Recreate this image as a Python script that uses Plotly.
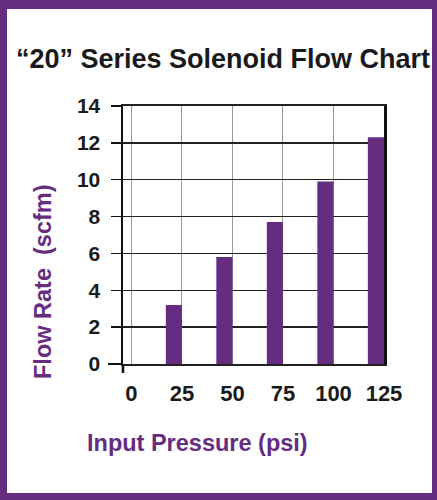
import plotly.graph_objects as go

# Data
pressures = [25, 50, 75, 100, 125]
flow_rates = [3.2, 5.8, 7.7, 9.9, 12.3]
x_tick_values = [0, 25, 50, 75, 100, 125]
x_tick_labels = ["0", "25", "50", "75", "100", "125"]
title_text = "\u201c20\u201d Series Solenoid Flow Chart"
y_title = "Flow Rate  (scfm)"
x_title = "Input Pressure (psi)"

PURPLE = "#662C80"
W, H = 437, 500
L, R, T, B = 123, 384, 106, 364  # plot area in pixels
FONT = "Liberation Sans, Arial, sans-serif"


def px(xp):
    return (xp - L) / (R - L)


def py(yp):
    return (B - yp) / (B - T)


fig = go.Figure()
fig.add_trace(go.Bar(
    x=pressures, y=flow_rates,
    width=8, offset=-8,
    marker=dict(color=PURPLE, line=dict(width=0)),
    hoverinfo="skip",
))

fig.update_layout(
    width=W, height=H,
    margin=dict(l=L, r=W - R, t=T, b=H - B, pad=0),
    paper_bgcolor=PURPLE,
    plot_bgcolor="white",
    showlegend=False,
    font=dict(family=FONT),
    xaxis=dict(
        range=[-4.2, 125],
        tickvals=x_tick_values, ticktext=x_tick_labels,
        showgrid=True, gridcolor="#9a9a9a", gridwidth=1,
        showline=True, linecolor="#222", linewidth=2, mirror=True,
        zeroline=False, ticks="",
        ticklabelstandoff=9,
        tickfont=dict(size=22, color="#1a1a1a", family=FONT, weight="bold"),
        fixedrange=True,
    ),
    yaxis=dict(
        range=[0, 14], dtick=2,
        showgrid=True, gridcolor="#222", gridwidth=1.5,
        showline=True, linecolor="#111", linewidth=2.5, mirror=True,
        zeroline=False,
        ticks="outside", ticklen=10, tickwidth=1.5, tickcolor="#111",
        ticklabelstandoff=6,
        tickfont=dict(size=21, color="#1a1a1a", family=FONT, weight="bold"),
        fixedrange=True,
    ),
    shapes=[
        dict(type="rect", xref="paper", yref="paper", layer="below",
             x0=px(7), x1=px(432), y0=py(9), y1=py(493),
             fillcolor="white", line=dict(width=0)),
        dict(type="line", xref="paper", yref="paper",
             x0=0, x1=0, y0=py(364), y1=py(373),
             line=dict(color="#111", width=2.5)),
        dict(type="line", xref="paper", yref="paper",
             x0=px(108), x1=0, y0=0, y1=0,
             line=dict(color="#111", width=2)),
    ],
    annotations=[
        dict(text=title_text, xref="paper", yref="paper",
             x=px(223), y=py(59), showarrow=False,
             xanchor="center", yanchor="middle",
             font=dict(size=27, color="#1a1a1a", weight="bold")),
        dict(text=y_title, xref="paper", yref="paper",
             x=px(43), y=py(282), showarrow=False, textangle=-90,
             xanchor="center", yanchor="middle",
             font=dict(size=23.5, color=PURPLE, weight="bold")),
        dict(text=x_title, xref="paper", yref="paper",
             x=px(197), y=py(443), showarrow=False,
             xanchor="center", yanchor="middle",
             font=dict(size=23.5, color=PURPLE, weight="bold")),
    ],
)

fig.write_html(
    "out.html",
    config={"displayModeBar": False, "staticPlot": True},
    post_script="document.body.style.margin='0';document.body.style.padding='0';"
                "document.documentElement.style.overflow='hidden';",
)
